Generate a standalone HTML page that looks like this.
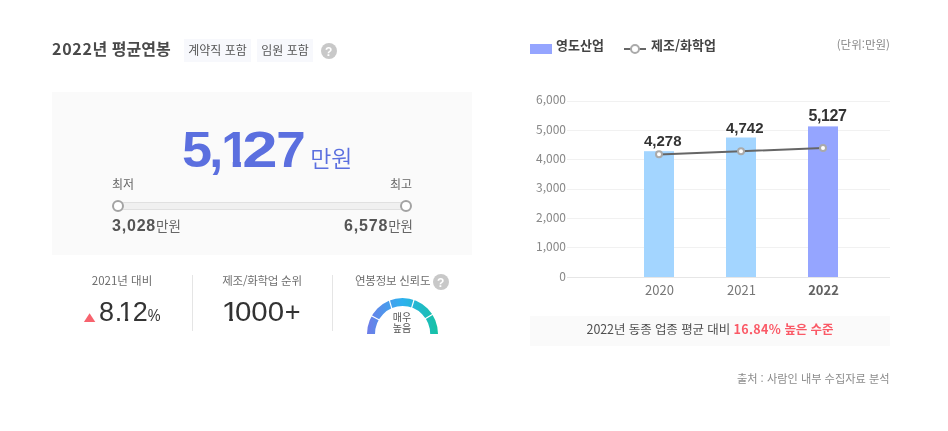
<!DOCTYPE html>
<html lang="ko">
<head>
<meta charset="utf-8">
<title>2022년 평균연봉</title>
<style>
*{margin:0;padding:0;box-sizing:border-box}
html,body{width:948px;height:431px;background:#fff;overflow:hidden}
body{position:relative;font-family:"Liberation Sans","Noto Sans CJK KR",sans-serif;color:#444;-webkit-font-smoothing:antialiased}
.abs{position:absolute;white-space:nowrap;line-height:1}
.kr{font-family:"Noto Sans CJK KR","Liberation Sans",sans-serif}
.title{left:52px;top:37px;font-size:16px;font-weight:700;color:#4a4a4a;line-height:22px}
.tag{top:39px;height:23px;background:#f7f8fc;color:#555;font-size:12px;line-height:22px;text-align:center}
.help{width:16px;height:16px;border-radius:50%;background:#c8c8c8;color:#fff;font-size:12px;font-weight:700;text-align:center;line-height:18px;text-indent:-.5px}
.box{left:52px;top:92px;width:420px;height:163px;background:#fafafa}
.big{left:182px;top:125px;font-size:50px;font-weight:700;color:#5b6fdf;letter-spacing:-0.6px}
.big span{display:inline-block}
.g5{transform:scaleX(1.08);transform-origin:0 50%}
.g1{transform:translateX(-1.2px);clip-path:polygon(0 0,19.6px 0,19.6px 100%,11.4px 100%,11.4px 70%,0 70%)}
.g2{transform:translateX(-.5px) scaleX(1.27);transform-origin:100% 50%}
.g7{transform:translateX(.8px) scaleX(1.06);transform-origin:100% 50%}
.bigunit{left:310.2px;top:145.6px;font-size:23px;color:#5b6fdf;font-weight:350}
.lbl{font-size:12px;color:#666}
.track{left:118px;top:202px;width:288px;height:8px;background:#f0f0f0;border:1px solid #e0e0e0;border-left:0;border-right:0}
.knob{width:12px;height:12px;border-radius:50%;background:#fff;border:2px solid #a3a3a3;top:200px}
.val{top:218px;font-size:16px;font-weight:700;color:#555;letter-spacing:.8px}
.val span{font-size:13.5px;font-weight:400;color:#666;letter-spacing:0}
.div{width:1px;background:#e5e5e5;top:275px;height:56px}
.stat{top:275px;font-size:11.5px;color:#6e6e6e;text-align:center}
.num{font-size:27px;color:#333;font-weight:400}
.num span.o1,.num span.o0,.num span.op{display:inline-block}
.o1{transform:translateX(-2.4px) scaleX(1.18);transform-origin:0 50%;clip-path:polygon(0 0,9.6px 0,9.6px 100%,6.4px 100%,6.4px 70%,0 70%)}
.o0{transform:scaleX(1.09);transform-origin:100% 50%}
.op{transform:translateX(.6px)}
.num span{display:inline-block}
.pd{transform:translateX(1.6px)}
.p1{transform:translateX(-1px);clip-path:polygon(0 0,9.6px 0,9.6px 100%,6.4px 100%,6.4px 70%,0 70%)}
.p2{transform:translateX(-.9px)}
.pp{font-size:16px;letter-spacing:0;transform:translateX(-.3px) scaleX(.9);transform-origin:0 50%}
.gtxt{left:381.5px;width:41px;top:312.3px;font-size:10px;line-height:10.2px;text-align:center;color:#555;font-weight:400}
.legend{font-size:13px;font-weight:700;color:#444;top:38px}
.unit{right:58px;top:39px;font-size:11.5px;color:#888}
.note{left:530px;top:316px;width:360px;height:30px;background:#fafafa;text-align:center;font-size:12.5px;letter-spacing:-.1px;line-height:26px;color:#505050}
.note b{color:#fa5966;font-weight:700}
.note b i{font-style:normal;letter-spacing:.3px}
.src{right:58.5px;top:373px;font-size:11.2px;color:#8c8c8c}
svg{position:absolute;left:0;top:0}
svg text{font-family:"Liberation Sans","Noto Sans CJK KR",sans-serif}
svg .n text{font-family:"Noto Sans CJK KR","Liberation Sans",sans-serif}
</style>
</head>
<body>
<div class="abs title kr"><span style="letter-spacing:.7px">2022</span>년 평균연봉</div>
<div class="abs tag kr" style="left:184px;width:67px">계약직 포함</div>
<div class="abs tag kr" style="left:257px;width:56px">임원 포함</div>
<div class="abs help" style="left:321px;top:43px">?</div>

<div class="abs box"></div>
<div class="abs big"><span class="g5">5</span>,<span class="g1">1</span><span class="g2">2</span><span class="g7">7</span></div>
<div class="abs bigunit kr">만원</div>
<div class="abs lbl kr" style="left:112px;top:178px">최저</div>
<div class="abs lbl kr" style="right:536px;top:178px">최고</div>
<div class="abs track"></div>
<div class="abs knob" style="left:112px"></div>
<div class="abs knob" style="left:400px"></div>
<div class="abs val" style="left:112px">3,028<span class="kr">만원</span></div>
<div class="abs val" style="right:535px">6,578<span class="kr">만원</span></div>

<div class="abs stat kr" style="left:62px;width:120px">2021년 대비</div>
<div class="abs num" style="left:99px;top:299px;letter-spacing:-1px">8<span class="pd">.</span><span class="p1">1</span><span class="p2">2</span><span class="pp">%</span></div>
<div class="abs div" style="left:192px"></div>
<div class="abs stat kr" style="left:202px;width:120px;letter-spacing:-.25px">제조/화학업 순위</div>
<div class="abs num" style="left:202px;width:120px;text-align:center;top:299px"><span class="o1">1</span><span class="o0">000</span><span class="op">+</span></div>
<div class="abs div" style="left:332px"></div>
<div class="abs stat kr" style="left:355px;letter-spacing:-.25px">연봉정보 신뢰도</div>
<div class="abs help" style="left:433px;top:274px">?</div>

<svg width="948" height="431" viewBox="0 0 948 431">
  <defs>
    <linearGradient id="gg" x1="367" x2="438" y1="0" y2="0" gradientUnits="userSpaceOnUse">
      <stop offset="0" stop-color="#6f7ce8"/>
      <stop offset="0.5" stop-color="#2db1ef"/>
      <stop offset="1" stop-color="#15c2a3"/>
    </linearGradient>
  </defs>
  <!-- gauge -->
  <path d="M367 334 A35.5 36 0 0 1 438 334 L430.2 334 A27.6 28.1 0 0 0 375 334 Z" fill="url(#gg)"/>
  <g stroke="#fff" stroke-width="1.2">
    <line x1="369.5" y1="314.8" x2="380.8" y2="320.7"/>
    <line x1="388.7" y1="298.2" x2="392.2" y2="309.8"/>
    <line x1="414.5" y1="298.2" x2="411" y2="309.8"/>
    <line x1="434.4" y1="313.3" x2="423.5" y2="319.8"/>
  </g>

  <polygon points="83.9,322 95.3,322 89.6,313.3" fill="#f7636e"/>
  <!-- chart grid -->
  <g stroke="#f1f1f1" stroke-width="1" shape-rendering="crispEdges">
    <line x1="567" x2="890" y1="101.5" y2="101.5"/>
    <line x1="567" x2="890" y1="130.5" y2="130.5"/>
    <line x1="567" x2="890" y1="159.5" y2="159.5"/>
    <line x1="567" x2="890" y1="189.5" y2="189.5"/>
    <line x1="567" x2="890" y1="218.5" y2="218.5"/>
    <line x1="567" x2="890" y1="247.5" y2="247.5"/>
    <line x1="567" x2="890" y1="277.5" y2="277.5" stroke="#e6e6e6"/>
  </g>
  <g font-size="12" fill="#888" text-anchor="end" class="n">
    <text x="566" y="104">6,000</text>
    <text x="566" y="133.5">5,000</text>
    <text x="566" y="162.5">4,000</text>
    <text x="566" y="192">3,000</text>
    <text x="566" y="221.5">2,000</text>
    <text x="566" y="250.5">1,000</text>
    <text x="566" y="281">0</text>
  </g>
  <!-- bars -->
  <rect x="644" y="151.2" width="30" height="125.8" fill="#a3d5ff"/>
  <rect x="726" y="137.5" width="30" height="139.5" fill="#a3d5ff"/>
  <rect x="808" y="126.4" width="30" height="150.6" fill="#95a5ff"/>
  <g font-size="15" font-weight="700" fill="#333">
    <text x="644" y="145.5">4,278</text>
    <text x="726" y="132.5">4,742</text>
    <text x="808.6" y="120.8" font-size="16" letter-spacing="-.45">5,127</text>
  </g>
  <!-- line -->
  <polyline points="659,154.5 741,151.2 823,148" fill="none" stroke="#666" stroke-width="2"/>
  <g fill="#fff" stroke="#aaa" stroke-width="2">
    <circle cx="659" cy="154.3" r="3"/>
    <circle cx="741" cy="151.2" r="3"/>
    <circle cx="823" cy="148" r="3"/>
  </g>
  <g font-size="13" fill="#777" text-anchor="middle" class="n">
    <text x="659.5" y="295">2020</text>
    <text x="741.5" y="295">2021</text>
    <text x="823.5" y="295" font-weight="700" fill="#626262">2022</text>
  </g>
  <!-- legend icons -->
  <rect x="530" y="44" width="22" height="10" fill="#95a5ff"/>
  <line x1="624" x2="646" y1="49" y2="49" stroke="#666" stroke-width="2"/>
  <circle cx="635" cy="49" r="4" fill="#fff" stroke="#aaa" stroke-width="2"/>
</svg>

<div class="abs gtxt kr" style="white-space:normal">매우<br>높음</div>

<div class="abs legend kr" style="left:556px">영도산업</div>
<div class="abs legend kr" style="left:651px">제조/화학업</div>
<div class="abs unit kr">(단위:만원)</div>

<div class="abs note kr">2022년 동종 업종 평균 대비 <b><i>16.84%</i> 높은 수준</b></div>
<div class="abs src kr">출처 : 사람인 내부 수집자료 분석</div>
</body>
</html>
